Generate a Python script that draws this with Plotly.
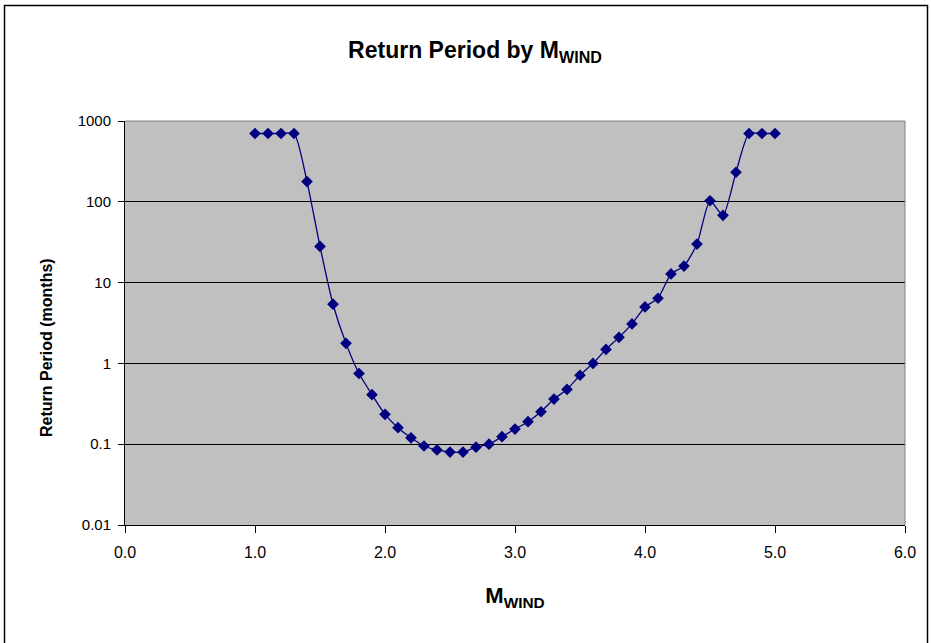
import plotly.graph_objects as go

m_wind = [1.0, 1.1, 1.2, 1.3, 1.4, 1.5, 1.6, 1.7, 1.8, 1.9,
          2.0, 2.1, 2.2, 2.3, 2.4, 2.5, 2.6, 2.7, 2.8, 2.9,
          3.0, 3.1, 3.2, 3.3, 3.4, 3.5, 3.6, 3.7, 3.8, 3.9,
          4.0, 4.1, 4.2, 4.3, 4.4, 4.5, 4.6, 4.7, 4.8, 4.9, 5.0]
return_period = [700, 700, 700, 700, 178, 28, 5.4, 1.77, 0.75, 0.41,
                 0.234, 0.16, 0.12, 0.095, 0.085, 0.08, 0.08, 0.092, 0.1, 0.124,
                 0.154, 0.19, 0.252, 0.362, 0.477, 0.713, 1.0, 1.49, 2.1, 3.08,
                 5.0, 6.4, 12.8, 16.0, 30.0, 103, 68, 232, 700, 700, 700]

y_tickvals = [0.01, 0.1, 1, 10, 100, 1000]
y_ticktext = ["0.01", "0.1", "1", "10", "100", "1000"]
x_tickvals = [0, 1, 2, 3, 4, 5, 6]

fig = go.Figure()
fig.add_trace(go.Scatter(
    x=m_wind, y=return_period, mode="lines+markers",
    line=dict(color="#000080", width=1.3, shape="spline", smoothing=0.6),
    marker=dict(symbol="diamond", size=9, color="#000080"),
    showlegend=False,
))

W, H = 931, 643
L, T = 125, 121
R = W - 905
B = H - 525
pw, ph = W - L - R, H - T - B

def px(x):
    return (x - L) / pw

def py(y):
    return (H - B - y) / ph

fig.update_layout(
    width=W, height=H,
    margin=dict(l=L, r=R, t=T, b=B),
    paper_bgcolor="white",
    plot_bgcolor="#C0C0C0",
    font=dict(family="Liberation Sans, Arial, sans-serif", color="black", size=13),
    title=dict(text="<b>Return Period by M<sub>WIND</sub></b>", x=px(475), xanchor="center",
               xref="paper",
               y=1 - 50 / H, yanchor="middle", font=dict(size=23)),
    xaxis=dict(range=[0, 6], tickvals=x_tickvals, tickformat=".1f",
               showgrid=False, zeroline=False, showline=True, linecolor="black", linewidth=1,
               ticks="outside", ticklen=7, tickcolor="black", ticklabelstandoff=6,
               title=dict(text="<b>M<sub>WIND</sub></b>", font=dict(size=22), standoff=27),
               tickfont=dict(size=16)),
    yaxis=dict(type="log", range=[-2, 3], tickvals=y_tickvals, ticktext=y_ticktext,
               showgrid=True, gridcolor="black", gridwidth=1, zeroline=False,
               showline=True, linecolor="black", linewidth=1,
               ticks="outside", ticklen=6, tickcolor="black", ticklabelstandoff=4,
               tickfont=dict(size=15)),
)

fig.add_annotation(text="<b>Return Period (months)</b>", textangle=-90,
                   xref="paper", yref="paper", x=px(46), y=py(348),
                   xanchor="center", yanchor="middle", showarrow=False,
                   font=dict(size=16))

# plot area border (top/right gray)
fig.add_shape(type="line", xref="paper", yref="paper", x0=0, x1=1, y0=1, y1=1,
              line=dict(color="#808080", width=1))
fig.add_shape(type="line", xref="paper", yref="paper", x0=1, x1=1, y0=0, y1=1,
              line=dict(color="#808080", width=1))
# chart outer frame
fig.add_shape(type="rect", xref="paper", yref="paper",
              x0=px(4.5), x1=px(927.5), y0=py(648), y1=py(5.5),
              line=dict(color="black", width=1.5), layer="below")

fig.write_html("out.html", config={"displayModeBar": False},
               post_script="document.body.style.margin='0px';")
